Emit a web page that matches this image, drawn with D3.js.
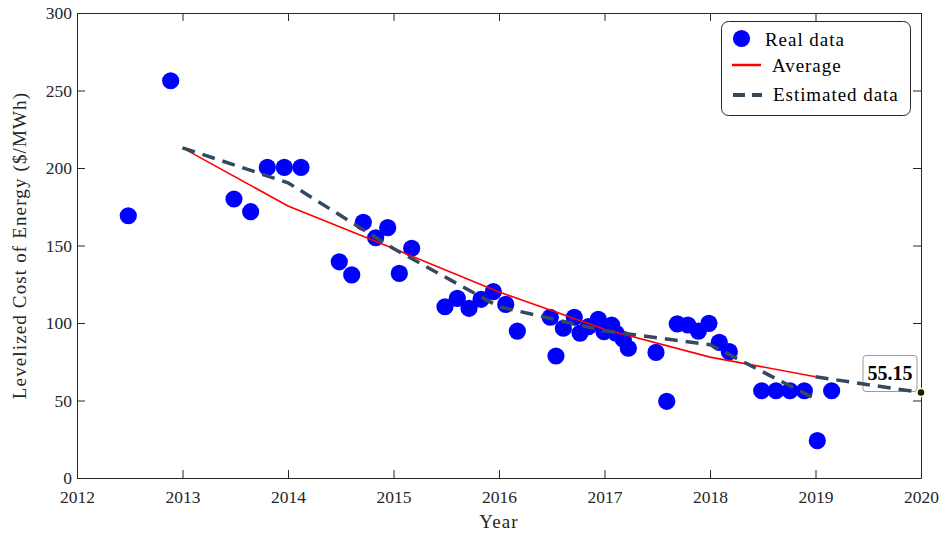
<!DOCTYPE html>
<html>
<head>
<meta charset="utf-8">
<script src="https://cdn.jsdelivr.net/npm/d3@7"></script>
<style>
  html, body { margin: 0; padding: 0; background: #fff; }
</style>
</head>
<body>
<svg id="chart" width="949" height="536"></svg>
<script>
// ---------- data ----------
const realYears = [2012.486, 2012.888, 2013.488, 2013.646, 2013.804, 2013.965, 2014.123,
  2014.486, 2014.604, 2014.714, 2014.831, 2014.945, 2015.055, 2015.172,
  2015.488, 2015.605, 2015.716, 2015.830, 2015.946, 2016.064, 2016.174,
  2016.486, 2016.540, 2016.610, 2016.714, 2016.768, 2016.847, 2016.941, 2016.995,
  2017.068, 2017.109, 2017.178, 2017.226, 2017.488, 2017.590, 2017.690, 2017.790,
  2017.890, 2017.990, 2018.088, 2018.183, 2018.490, 2018.626, 2018.758, 2018.894,
  2019.017, 2019.153];
const realValues = [169.2, 256.3, 180.0, 171.8, 200.4, 200.4, 200.4,
  139.5, 131.0, 165.0, 155.0, 161.5, 132.0, 148.2,
  110.5, 115.9, 109.5, 115.3, 120.2, 112.0, 94.8,
  103.7, 78.7, 96.6, 103.7, 93.5, 97.6, 102.4, 94.4,
  98.7, 93.5, 89.5, 83.7, 81.0, 49.5, 99.4, 98.7,
  94.8, 99.8, 87.5, 81.5, 56.3, 56.3, 56.3, 56.3,
  24.1, 56.3];

const avgYears = [2013, 2014, 2015, 2016, 2017, 2018, 2019];
const avgValues = [213, 175.5, 148, 120, 96, 78, 65.3];

const estYears = [2013, 2014, 2015, 2016, 2017, 2018, 2019];
const estValues = [213, 190.5, 148, 110.5, 95, 86, 51];

const forecastYears = [2019, 2020];
const forecastValues = [65.3, 55.15];

const xTicks = [2012, 2013, 2014, 2015, 2016, 2017, 2018, 2019, 2020];
const yTicks = [0, 50, 100, 150, 200, 250, 300];

const xLabel = "Year";
const yLabel = "Levelized Cost of Energy ($/MWh)";
const legendLabels = ["Real data", "Average", "Estimated data"];
const tipLabel = "55.15";

// ---------- styles ----------
const FONT = '"Liberation Serif", "Times New Roman", serif';
const AXIS = "#262626";
const BLUE = "#0000ff";
const RED = "#ff0000";
const DASH = "#34495e";

const svg = d3.select("#chart");
const L = 77, R = 921, T = 13, B = 478;

const x = d3.scaleLinear().domain([2012, 2020]).range([L, R]);
const y = d3.scaleLinear().domain([0, 300]).range([B, T]);

// axes (box with inward ticks)
const gAx = svg.append("g");
function styleAxis(g) {
  g.attr("font-family", FONT).attr("font-size", 17.5);
  g.selectAll("path.domain").attr("stroke", AXIS).attr("stroke-width", 1);
  g.selectAll(".tick line").attr("stroke", AXIS).attr("stroke-width", 1);
  g.selectAll(".tick text").attr("fill", AXIS)
    .style("font-family", FONT).style("font-size", "17.5px");
}
gAx.append("g").attr("transform", `translate(0,${B})`)
  .call(d3.axisBottom(x).tickValues(xTicks).tickFormat(d3.format("d")).tickSize(-8).tickSizeOuter(0).tickPadding(13))
  .call(styleAxis);
gAx.append("g").attr("transform", `translate(0,${T})`)
  .call(d3.axisTop(x).tickValues(xTicks).tickFormat("").tickSize(-8).tickSizeOuter(0))
  .call(styleAxis);
gAx.append("g").attr("transform", `translate(${L},0)`)
  .call(d3.axisLeft(y).tickValues(yTicks).tickSize(-8).tickSizeOuter(0).tickPadding(5))
  .call(styleAxis);
gAx.append("g").attr("transform", `translate(${R},0)`)
  .call(d3.axisRight(y).tickValues(yTicks).tickFormat("").tickSize(-8).tickSizeOuter(0))
  .call(styleAxis);

// axis titles
svg.append("text").attr("x", (L + R) / 2).attr("y", 528).attr("text-anchor", "middle")
  .style("font-family", FONT).style("font-size", "19px").style("letter-spacing", "0.06em")
  .attr("fill", AXIS).text(xLabel);
svg.append("text").attr("transform", `translate(26,${(T + B) / 2}) rotate(-90)`)
  .attr("text-anchor", "middle").style("font-family", FONT).style("font-size", "19px")
  .style("letter-spacing", "0.06em").attr("fill", AXIS).text(yLabel);

// data tip box (below lines)
const tipX = x(2020), tipY = y(55.15);
svg.append("rect").attr("x", tipX - 58).attr("y", tipY - 37).attr("width", 54).attr("height", 36)
  .attr("rx", 3).attr("fill", "#fff").attr("stroke", "#9a9a9a").attr("stroke-width", 1);
svg.append("text").attr("x", tipX - 31).attr("y", tipY - 13).attr("text-anchor", "middle")
  .style("font-family", FONT).style("font-size", "20px").style("font-weight", "bold")
  .attr("fill", "#000").text(tipLabel);

// real data points
svg.append("g").selectAll("circle").data(realYears.map((d, i) => [d, realValues[i]]))
  .join("circle").attr("cx", d => x(d[0])).attr("cy", d => y(d[1])).attr("r", 8.6).attr("fill", BLUE);

const line = d3.line().x(d => x(d[0])).y(d => y(d[1]));

// average
svg.append("path").datum(avgYears.map((d, i) => [d, avgValues[i]]))
  .attr("d", line).attr("fill", "none").attr("stroke", RED).attr("stroke-width", 1.6);

// estimated
svg.append("path").datum(estYears.map((d, i) => [d, estValues[i]]))
  .attr("d", line).attr("fill", "none").attr("stroke", DASH).attr("stroke-width", 3.5)
  .attr("stroke-dasharray", "13,8");
svg.append("path").datum(forecastYears.map((d, i) => [d, forecastValues[i]]))
  .attr("d", line).attr("fill", "none").attr("stroke", DASH).attr("stroke-width", 3.5)
  .attr("stroke-dasharray", "13,8");

// data tip marker
svg.append("circle").attr("cx", tipX).attr("cy", tipY).attr("r", 4)
  .attr("fill", "#1a1a1a").attr("stroke", "#ffffcc").attr("stroke-width", 1.5);

// legend
const lg = svg.append("g");
lg.append("rect").attr("x", 721.5).attr("y", 21.5).attr("width", 189).attr("height", 94)
  .attr("rx", 7).attr("fill", "#fff").attr("stroke", AXIS).attr("stroke-width", 1);
lg.append("circle").attr("cx", 741.5).attr("cy", 38.5).attr("r", 8.6).attr("fill", BLUE);
lg.append("line").attr("x1", 732).attr("x2", 761).attr("y1", 65).attr("y2", 65)
  .attr("stroke", RED).attr("stroke-width", 2.5);
lg.append("line").attr("x1", 733).attr("x2", 762).attr("y1", 95).attr("y2", 95)
  .attr("stroke", DASH).attr("stroke-width", 4).attr("stroke-dasharray", "12,7");
const ly = [46, 71.5, 100.5], lx = [765, 772, 773];
legendLabels.forEach((t, i) => {
  lg.append("text").attr("x", lx[i]).attr("y", ly[i]).style("font-family", FONT)
    .style("font-size", "19px").style("letter-spacing", "0.05em").attr("fill", "#000").text(t);
});
</script>
</body>
</html>
